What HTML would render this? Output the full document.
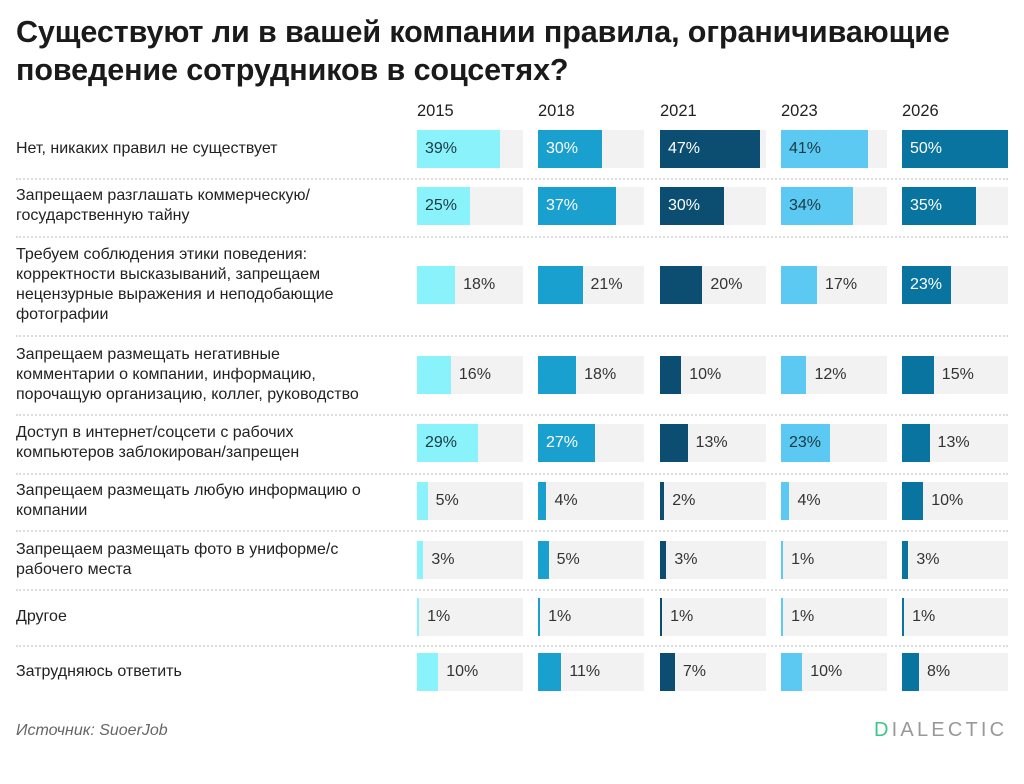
<!DOCTYPE html>
<html><head><meta charset="utf-8"><style>
body{margin:0;width:1024px;height:784px;background:#fff;font-family:"Liberation Sans",sans-serif;position:relative;overflow:hidden;color:#222}
#title{position:absolute;left:16px;top:13px;font-size:30.5px;font-weight:bold;line-height:38px;color:#1a1a1a;letter-spacing:-0.1px}
.abs{position:absolute}
.lbl{position:absolute;left:16px;width:400px;font-size:16px;line-height:20px;color:#222}
.yr{position:absolute;top:102px;font-size:16.5px;color:#222}
.sep{position:absolute;left:16px;width:992px;border-top:2px dotted #ddd;height:0}
.val{position:absolute;font-size:16px;line-height:38px}
</style></head><body>
<div id="title">Существуют ли в вашей компании правила, ограничивающие<br>поведение сотрудников в соцсетях?</div>
<div id="chart"></div>
<div class="abs" style="left:16px;top:722px;font-size:16px;font-style:italic;color:#666">Источник: SuoerJob</div>
<div class="abs" style="left:874px;top:719px;font-size:20px;letter-spacing:3.2px;color:#999"><span style="color:#3cc68a">D</span>IALECTIC</div>
<script>
const years=["2015","2018","2021","2023","2026"];
const categories=["Нет, никаких правил не существует","Запрещаем разглашать коммерческую/<br>государственную тайну","Требуем соблюдения этики поведения:<br>корректности высказываний, запрещаем<br>нецензурные выражения и неподобающие<br>фотографии","Запрещаем размещать негативные<br>комментарии о компании, информацию,<br>порочащую организацию, коллег, руководство","Доступ в интернет/соцсети с рабочих<br>компьютеров заблокирован/запрещен","Запрещаем размещать любую информацию о<br>компании","Запрещаем размещать фото в униформе/с<br>рабочего места","Другое","Затрудняюсь ответить"];
const v2015=[39,25,18,16,29,5,3,1,10];
const v2018=[30,37,21,18,27,4,5,1,11];
const v2021=[47,30,20,10,13,2,3,1,7];
const v2023=[41,34,17,12,23,4,1,1,10];
const v2026=[50,35,23,15,13,10,3,1,8];
const series=[v2015,v2018,v2021,v2023,v2026];
const colors=["#8af2fa","#1aa0cf","#0b4e72","#5bc9f2","#0a74a0"];
const textInside=["#1a3a44","#fff","#fff","#1a3a44","#fff"];
const rowCenters=[149,206,285,375,443,501,560,617,672];
const seps=[178,236,335,414,473,530,589,645];
const colX=[417,538,660,781,902];
const trackW=106,barH=38,maxV=50;
const x=v=>v/maxV*trackW;
const chart=document.getElementById('chart');
years.forEach((y,j)=>{const d=document.createElement('div');d.className='yr';d.style.left=colX[j]+'px';d.textContent=y;


chart.appendChild(d);});
seps.forEach((s,i)=>{const d=document.createElement('div');d.className='sep';d.style.top=s+'px';


chart.appendChild(d);});
categories.forEach((c,i)=>{
 const l=document.createElement('div');l.className='lbl';l.innerHTML=c;
 const lines=c.split('<br>').length;l.style.top=(rowCenters[i]-lines*10)+'px';
 
 
 chart.appendChild(l);
 const top=rowCenters[i]-barH/2;
 series.forEach((s,j)=>{
  const t=document.createElement('div');t.className='abs';
  t.style.cssText=`left:${colX[j]}px;top:${top}px;width:${trackW}px;height:${barH}px;background:#f2f2f2`;
  
  
  chart.appendChild(t);
  const b=document.createElement('div');b.className='abs';
  b.style.cssText=`left:${colX[j]}px;top:${top}px;width:${x(s[i])}px;height:${barH}px;background:${colors[j]}`;
  
  
  chart.appendChild(b);
  const v=document.createElement('div');v.className='val';v.textContent=s[i]+'%';
  const inside=s[i]>=22;
  v.style.top=top+'px';
  v.style.left=(inside?colX[j]+8:colX[j]+x(s[i])+8)+'px';
  v.style.color=inside?textInside[j]:'#333';
  
  
  chart.appendChild(v);
 });
});
</script>
</body></html>
